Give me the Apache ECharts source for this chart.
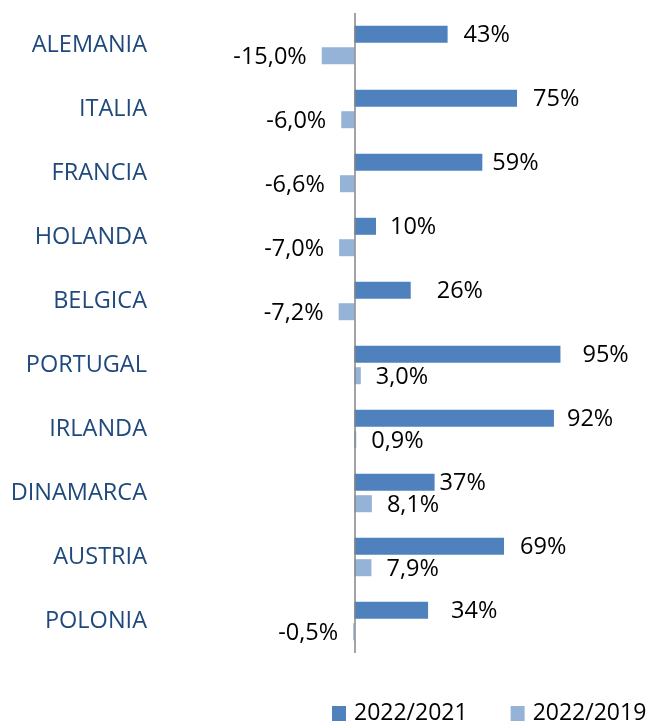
<!DOCTYPE html>
<html>
<head>
<meta charset="utf-8">
<script src="https://cdn.jsdelivr.net/npm/echarts@6/dist/echarts.min.js"></script>
<style>
  html, body { margin: 0; padding: 0; background: #ffffff; }
  #chart { width: 650px; height: 721px; }
</style>
</head>
<body>
<div id="chart"></div>
<script>
// ---- data ----
const categories = ['ALEMANIA', 'ITALIA', 'FRANCIA', 'HOLANDA', 'BELGICA', 'PORTUGAL', 'IRLANDA', 'DINAMARCA', 'AUSTRIA', 'POLONIA'];
const seriesNames = ['2022/2021', '2022/2019'];
const values2021 = [43, 75, 59, 10, 26, 95, 92, 37, 69, 34];
const values2019 = [-15.0, -6.0, -6.6, -7.0, -7.2, 3.0, 0.9, 8.1, 7.9, -0.5];

// ---- style (label gaps as placed in the original) ----
const darkLabelGap = [16, 16, 10, 14, 26, 22, 13, 5, 16, 23];
const lightLabelGap = 15;
const FONT = '"Open Sans", "Liberation Sans", sans-serif';
const FS = 23.5;

const fmtInt = v => Math.round(v) + '%';
const fmtDec = v => v.toFixed(1).replace('.', ',') + '%';

function buildData(values, gaps, fmt) {
  return values.map((v, i) => ({
    value: v,
    label: {
      position: v < 0 ? 'left' : 'right',
      distance: Array.isArray(gaps) ? gaps[i] : gaps,
      formatter: () => fmt(v)
    }
  }));
}

const chart = echarts.init(document.getElementById('chart'), null, { renderer: 'canvas' });
chart.setOption({
  animation: false,
  backgroundColor: '#ffffff',
  textStyle: { fontFamily: FONT },
  grid: { left: 159, top: 13, width: 434, height: 640, containLabel: false },
  xAxis: {
    type: 'value', min: -90, max: 110, show: false
  },
  yAxis: {
    type: 'category',
    inverse: true,
    data: categories,
    axisLine: { show: false },
    axisTick: { show: false },
    splitLine: { show: false },
    axisLabel: { color: '#1F497D', fontSize: FS, fontFamily: FONT, margin: 12 }
  },
  legend: {
    data: seriesNames,
    left: 332, top: 702,
    width: 340,
    padding: 0,
    icon: 'rect',
    itemWidth: 14, itemHeight: 15,
    itemGap: 43,
    textStyle: { fontSize: 23, color: '#000000', fontFamily: FONT, padding: [0, 0, 0, 3] }
  },
  series: [
    {
      name: seriesNames[0],
      type: 'bar',
      barWidth: 17,
      barGap: '26%',
      itemStyle: { color: '#4F81BD' },
      label: { show: true, fontSize: FS, color: '#000000', fontFamily: FONT, offset: [0, 1] },
      data: buildData(values2021, darkLabelGap, fmtInt),
      markLine: {
        silent: true,
        symbol: 'none',
        label: { show: false },
        lineStyle: { color: '#868686', width: 1.5, type: 'solid' },
        data: [{ xAxis: 0 }]
      }
    },
    {
      name: seriesNames[1],
      type: 'bar',
      barWidth: 17,
      itemStyle: { color: '#95B3D7' },
      label: { show: true, fontSize: FS, color: '#000000', fontFamily: FONT, offset: [0, 2] },
      data: buildData(values2019, lightLabelGap, fmtDec)
    }
  ]
});
</script>
</body>
</html>
